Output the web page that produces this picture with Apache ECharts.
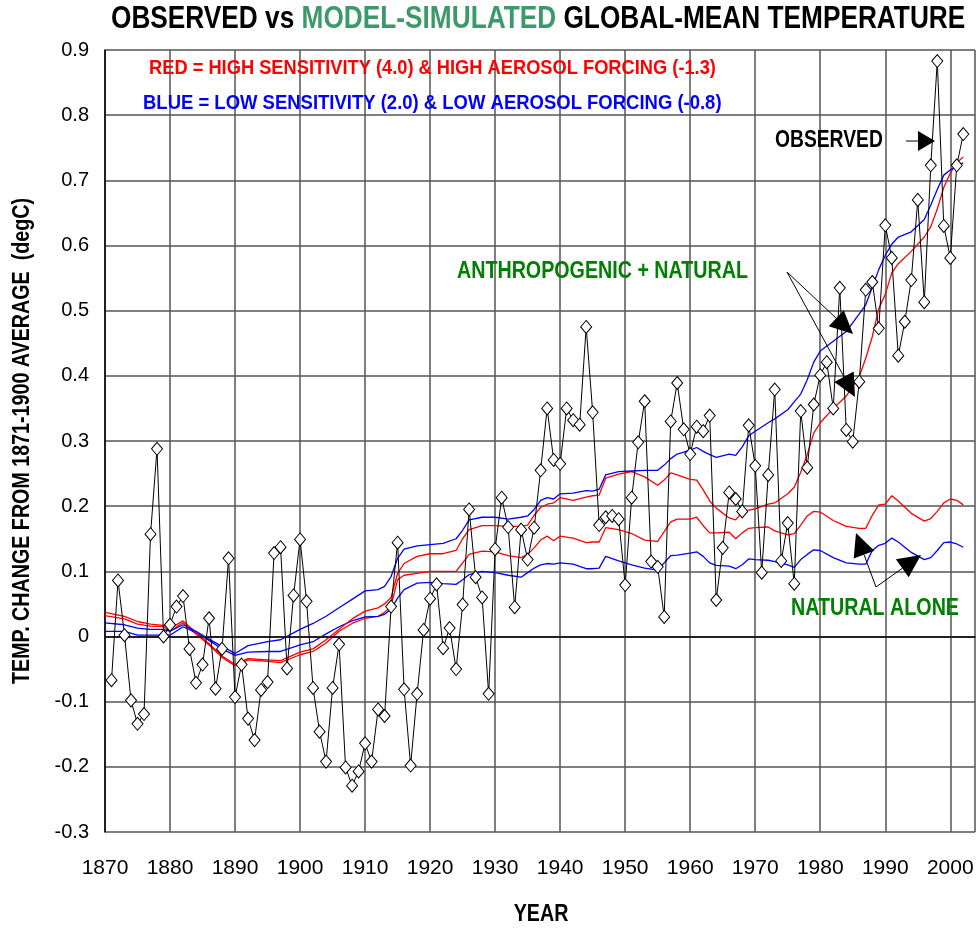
<!DOCTYPE html>
<html>
<head>
<meta charset="utf-8">
<title>Observed vs model-simulated global-mean temperature</title>
<script src="https://cdn.jsdelivr.net/npm/echarts@6/dist/echarts.min.js"></script>
<style>
html, body { margin: 0; padding: 0; background: #fff; }
#chart1 { width: 978px; height: 932px; }
</style>
</head>
<body>
<div id="chart1"></div>
<script>
// observed annual anomalies (degC)
var obsYears = [1871,1872,1873,1874,1875,1876,1877,1878,1879,
	1880,1881,1882,1883,1884,1885,1886,1887,1888,1889,
	1890,1891,1892,1893,1894,1895,1896,1897,1898,1899,
	1900,1901,1902,1903,1904,1905,1906,1907,1908,1909,
	1910,1911,1912,1913,1914,1915,1916,1917,1918,1919,
	1920,1921,1922,1923,1924,1925,1926,1927,1928,1929,
	1930,1931,1932,1933,1934,1935,1936,1937,1938,1939,
	1940,1941,1942,1943,1944,1945,1946,1947,1948,1949,
	1950,1951,1952,1953,1954,1955,1956,1957,1958,1959,
	1960,1961,1962,1963,1964,1965,1966,1967,1968,1969,
	1970,1971,1972,1973,1974,1975,1976,1977,1978,1979,
	1980,1981,1982,1983,1984,1985,1986,1987,1988,1989,
	1990,1991,1992,1993,1994,1995,1996,1997,1998,1999,
	2000,2001,2002];
var obsValues = [-0.067,0.086,0.002,-0.098,-0.134,-0.119,0.157,0.288,0.000,
	0.018,0.046,0.062,-0.019,-0.071,-0.043,0.028,-0.080,-0.019,0.120,
	-0.093,-0.043,-0.126,-0.159,-0.082,-0.070,0.128,0.137,-0.049,0.063,
	0.149,0.054,-0.079,-0.146,-0.192,-0.079,-0.012,-0.201,-0.229,-0.207,
	-0.164,-0.192,-0.112,-0.122,0.046,0.144,-0.081,-0.198,-0.088,0.010,
	0.058,0.080,-0.018,0.013,-0.050,0.049,0.195,0.091,0.060,-0.088,
	0.134,0.213,0.168,0.045,0.164,0.118,0.167,0.255,0.350,0.271,
	0.265,0.350,0.332,0.325,0.475,0.344,0.171,0.183,0.185,0.180,
	0.079,0.213,0.298,0.361,0.115,0.107,0.030,0.330,0.389,0.318,
	0.280,0.322,0.315,0.339,0.056,0.136,0.221,0.211,0.192,0.324,
	0.262,0.098,0.248,0.379,0.116,0.174,0.081,0.346,0.259,0.356,
	0.401,0.421,0.350,0.535,0.317,0.299,0.391,0.532,0.544,0.473,
	0.631,0.581,0.431,0.483,0.547,0.670,0.513,0.723,0.883,0.630,
	0.581,0.723,0.771];

// model runs, read at these years
var modelYears = [1870,1873,1875,1877,1879,1880,1882,1884,1886,1888,
	1890,1892,1895,1897,1900,1902,1904,1906,1908,1910,
	1912,1913,1914,1915,1916,1918,1920,1922,1924,1925,
	1926,1928,1930,1932,1934,1935,1936,1937,1938,1939,
	1940,1942,1944,1945,1946,1947,1949,1951,1953,1955,
	1956,1957,1958,1960,1961,1962,1963,1964,1966,1967,
	1968,1969,1970,1972,1973,1975,1976,1977,1978,1979,
	1980,1982,1984,1986,1987,1988,1989,1990,1991,1992,
	1994,1996,1997,1998,1999,2000,2001,2002];
// red = high sensitivity, anthropogenic + natural
var redAnthro = [0.037,0.031,0.023,0.019,0.017,0.012,0.024,0.006,-0.011,-0.030,
	-0.043,-0.034,-0.036,-0.037,-0.024,-0.019,-0.005,0.011,0.027,0.039,
	0.044,0.050,0.060,0.097,0.112,0.123,0.127,0.127,0.132,0.150,
	0.164,0.170,0.170,0.169,0.169,0.171,0.186,0.198,0.203,0.205,
	0.213,0.209,0.214,0.216,0.217,0.243,0.249,0.253,0.245,0.232,
	0.240,0.251,0.248,0.241,0.240,0.225,0.208,0.197,0.182,0.179,
	0.191,0.194,0.196,0.203,0.205,0.219,0.229,0.252,0.279,0.312,
	0.328,0.350,0.369,0.399,0.427,0.460,0.503,0.525,0.558,0.572,
	0.591,0.613,0.629,0.656,0.689,0.711,0.727,0.736];
// red = high sensitivity, natural alone
var redNatural = [0.032,0.027,0.019,0.016,0.015,0.008,0.021,0.004,-0.013,-0.032,
	-0.045,-0.036,-0.038,-0.040,-0.028,-0.023,-0.010,0.008,0.020,0.028,
	0.031,0.037,0.047,0.087,0.094,0.097,0.100,0.100,0.100,0.113,
	0.126,0.131,0.130,0.124,0.121,0.126,0.136,0.148,0.154,0.147,
	0.154,0.151,0.144,0.145,0.145,0.167,0.164,0.158,0.148,0.146,
	0.161,0.176,0.180,0.180,0.183,0.170,0.159,0.159,0.160,0.150,
	0.159,0.166,0.167,0.168,0.162,0.156,0.158,0.171,0.185,0.192,
	0.191,0.178,0.169,0.166,0.166,0.186,0.202,0.203,0.216,0.208,
	0.189,0.177,0.181,0.192,0.205,0.211,0.209,0.202];
// blue = low sensitivity, anthropogenic + natural
var blueAnthro = [0.021,0.018,0.013,0.011,0.011,0.008,0.018,0.008,-0.004,-0.015,
	-0.026,-0.014,-0.008,-0.005,0.011,0.020,0.031,0.044,0.057,0.070,
	0.072,0.077,0.092,0.120,0.134,0.139,0.141,0.143,0.150,0.163,
	0.179,0.183,0.183,0.180,0.183,0.185,0.195,0.209,0.213,0.211,
	0.219,0.220,0.224,0.223,0.226,0.248,0.253,0.254,0.255,0.255,
	0.263,0.273,0.280,0.286,0.290,0.284,0.279,0.275,0.280,0.278,
	0.291,0.308,0.315,0.328,0.334,0.348,0.360,0.372,0.394,0.421,
	0.438,0.453,0.468,0.495,0.509,0.536,0.563,0.585,0.602,0.613,
	0.621,0.640,0.662,0.686,0.708,0.716,0.722,0.727];
// blue = low sensitivity, natural alone
var blueNatural = [0.008,0.008,0.002,0.002,0.002,0.002,0.015,0.006,-0.006,-0.019,
	-0.029,-0.024,-0.023,-0.023,-0.013,-0.008,0.004,0.015,0.024,0.030,
	0.031,0.034,0.042,0.059,0.072,0.082,0.083,0.081,0.080,0.087,
	0.095,0.100,0.098,0.094,0.091,0.098,0.105,0.110,0.112,0.111,
	0.113,0.111,0.104,0.104,0.105,0.123,0.116,0.110,0.105,0.102,
	0.113,0.124,0.125,0.128,0.130,0.123,0.113,0.109,0.108,0.104,
	0.110,0.119,0.118,0.117,0.115,0.110,0.106,0.118,0.126,0.133,
	0.132,0.121,0.113,0.111,0.111,0.132,0.140,0.143,0.151,0.145,
	0.129,0.118,0.121,0.132,0.144,0.145,0.142,0.137];

var yearTicks = [1870,1880,1890,1900,1910,1920,1930,1940,1950,1960,1970,1980,1990,2000];

// no narrow face installed: squeeze Liberation Sans Bold horizontally instead
var boldFont = '"Liberation Sans", Arial, sans-serif';
var plainFont = '"Liberation Sans", Arial, sans-serif';
var squeeze = 0.82;

function pairs(xs, ys) {
	var out = [];
	for (var i = 0; i < xs.length; i++) {
		out.push([xs[i], ys[i]]);
	}
	return out;
}

function modelLine(name, values, color) {
	return {
		name: name,
		type: 'line',
		data: pairs(modelYears, values),
		showSymbol: false,
		symbol: 'none',
		lineStyle: { color: color, width: 1.3 },
		z: 2
	};
}

// arrow with a filled head, pixel coordinates
function arrow(x1, y1, x2, y2, len, half) {
	var dx = x2 - x1, dy = y2 - y1;
	var d = Math.sqrt(dx * dx + dy * dy);
	var ux = dx / d, uy = dy / d;
	var bx = x2 - ux * len, by = y2 - uy * len;
	return [{
		type: 'polyline',
		shape: { points: [[x1, y1], [bx, by]] },
		style: { stroke: '#000', lineWidth: 1, fill: null },
		z: 10
	}, {
		type: 'polygon',
		shape: { points: [[x2, y2], [bx - uy * half, by + ux * half], [bx + uy * half, by - ux * half]] },
		style: { fill: '#000' },
		z: 10
	}];
}

function label(x, y, text, color, size, align, rotation, sx) {
	return {
		type: 'text',
		x: x,
		y: y,
		z: 10,
		scaleX: sx || squeeze,
		rotation: rotation || 0,
		style: {
			text: text,
			fill: color,
			font: 'bold ' + size + 'px ' + boldFont,
			align: align || 'left',
			verticalAlign: 'middle'
		}
	};
}

var titleText = {
	type: 'text',
	x: 111,
	y: 19,
	z: 10,
	scaleX: squeeze,
	style: {
		text: '{k|OBSERVED vs }{g|MODEL-SIMULATED}{k| GLOBAL-MEAN TEMPERATURE}',
		align: 'left',
		verticalAlign: 'middle',
		rich: {
			k: { fill: '#000', fontWeight: 'bold', fontSize: 32, fontFamily: boldFont },
			g: { fill: '#3c9a6a', fontWeight: 'bold', fontSize: 32, fontFamily: boldFont }
		}
	}
};

var graphics = [
	titleText,
	label(149, 68, 'RED = HIGH SENSITIVITY (4.0) & HIGH AEROSOL FORCING (-1.3)', '#ff0000', 21, 'left', 0, 0.87),
	label(143, 103, 'BLUE = LOW SENSITIVITY (2.0) & LOW AEROSOL FORCING (-0.8)', '#0000ff', 21, 'left', 0, 0.88),
	label(775, 141, 'OBSERVED', '#000', 23.5),
	label(457, 271, 'ANTHROPOGENIC + NATURAL', '#008000', 24),
	label(791, 608, 'NATURAL ALONE', '#008000', 24),
	label(541, 914, 'YEAR', '#000', 24, 'center'),
	label(22, 441, 'TEMP. CHANGE FROM 1871-1900 AVERAGE  (degC)', '#000', 24, 'center', Math.PI / 2)
];
graphics = graphics
	.concat(arrow(906, 141, 935, 141, 17, 10))
	.concat(arrow(787, 272, 853, 334, 23, 11))
	.concat(arrow(787, 272, 855, 397, 23, 11))
	.concat(arrow(876, 587, 856, 533, 23, 11))
	.concat(arrow(876, 587, 921, 555, 23, 11));

var option = {
	animation: false,
	backgroundColor: '#fff',
	grid: { left: 105, right: 0, top: 50, bottom: 100, containLabel: false },
	xAxis: {
		type: 'value',
		min: 1870,
		max: 2003.8,
		interval: 10,
		axisLine: { show: true, lineStyle: { color: '#000', width: 1.5 } },
		axisTick: { show: false },
		axisLabel: {
			color: '#000',
			fontSize: 21,
			fontFamily: plainFont,
			margin: 26,
			formatter: function(v) {
				return yearTicks.indexOf(v) >= 0 ? String(v) : '';
			}
		},
		splitLine: { show: true, lineStyle: { color: '#555', width: 1.5 } }
	},
	yAxis: {
		type: 'value',
		min: -0.3,
		max: 0.9,
		interval: 0.1,
		axisLine: { show: true, lineStyle: { color: '#000', width: 1.5 } },
		axisTick: { show: false },
		axisLabel: {
			color: '#000',
			fontSize: 20,
			fontFamily: plainFont,
			margin: 16,
			formatter: function(v) {
				return String(Math.round(v * 10) / 10);
			}
		},
		splitLine: { show: true, lineStyle: { color: '#555', width: 1.5 } }
	},
	graphic: graphics,
	series: [
		modelLine('Red natural', redNatural, '#ff0000'),
		modelLine('Blue natural', blueNatural, '#0000ff'),
		modelLine('Red anthropogenic + natural', redAnthro, '#ff0000'),
		modelLine('Blue anthropogenic + natural', blueAnthro, '#0000ff'),
		{
			name: 'Observed',
			type: 'line',
			data: pairs(obsYears, obsValues),
			symbol: 'diamond',
			symbolSize: [11, 13],
			showSymbol: true,
			lineStyle: { color: '#000', width: 1 },
			itemStyle: { color: '#fff', borderColor: '#000', borderWidth: 1 },
			z: 5,
			markLine: {
				silent: true,
				symbol: 'none',
				label: { show: false },
				lineStyle: { color: '#222', width: 2, type: 'solid' },
				data: [{ yAxis: 0 }]
			}
		}
	]
};

var chart1 = echarts.init(document.getElementById('chart1'));
chart1.setOption(option);
</script>
</body>
</html>
